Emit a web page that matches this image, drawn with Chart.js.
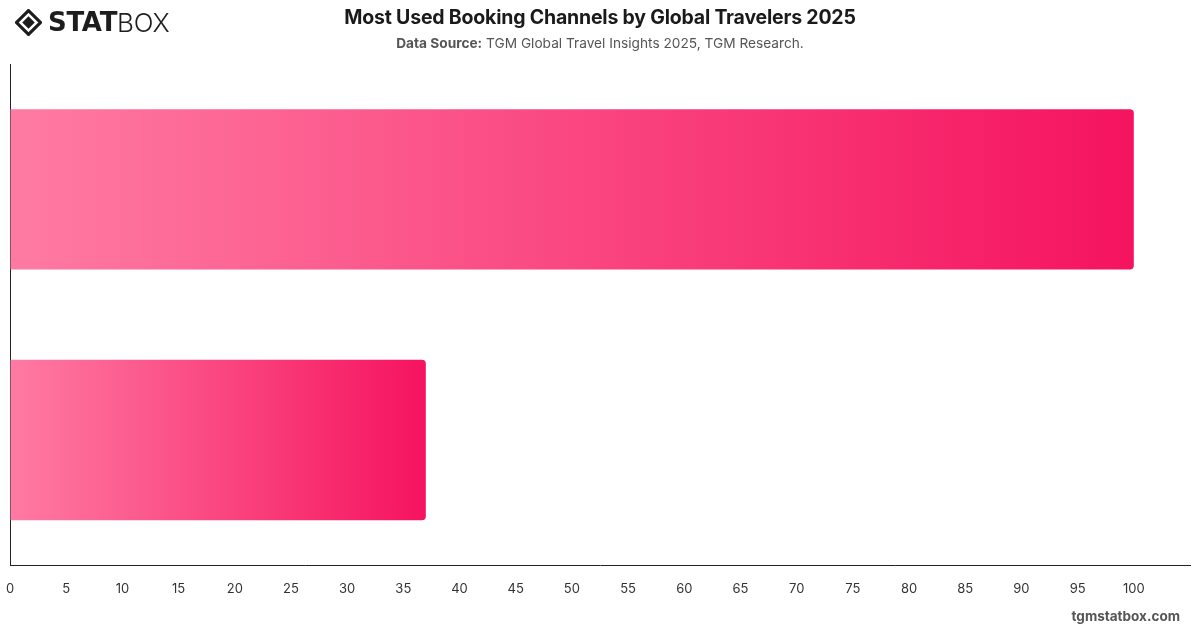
<!DOCTYPE html>
<html>
<head>
<meta charset="utf-8">
<script src="https://cdn.jsdelivr.net/npm/chart.js@4.4.1/dist/chart.umd.min.js"></script>
<style>
  html, body { margin: 0; padding: 0; background: #fff; }
  body { width: 1200px; height: 628px; position: relative; overflow: hidden; font-family: Inter, "Noto Sans", Arial, sans-serif; }
  #wrap { position: absolute; left: 0; top: 0; width: 1200px; height: 628px; }
  #title { position: absolute; top: 5px; left: 0; width: 1200px; text-align: center; font-size: 19.5px; font-weight: 700; color: #1a1a1a; letter-spacing: -0.2px; }
  #sub { position: absolute; top: 35px; left: 0; width: 1200px; text-align: center; font-size: 13.7px; color: #555; }
  #sub b { font-weight: 700; color: #555; }
  #logo { position: absolute; left: 15px; top: 8px; height: 28px; display: flex; align-items: center; }
  #logo .stat { font-family: "DejaVu Sans", Inter, sans-serif; font-weight: 900; font-size: 26px; color: #1d1d1d; letter-spacing: -0.3px; margin-left: 6px; }
  #logo .box { font-family: Inter, "Noto Sans", sans-serif; font-weight: 300; font-size: 26px; color: #1d1d1d; letter-spacing: -0.3px; }
  #wm { position: absolute; right: 20px; top: 608px; font-size: 13.5px; font-weight: 700; color: #555; }
</style>
</head>
<body>
<div id="wrap"><canvas id="c" width="1200" height="628"></canvas></div>
<div id="logo">
  <svg width="27" height="27" viewBox="0 0 26 26">
    <polygon points="13,1.5 24.5,13 13,24.5 1.5,13" fill="none" stroke="#1d1d1d" stroke-width="3"/>
    <polygon points="13,7 19,13 13,19 7,13" fill="#1d1d1d"/>
  </svg>
  <span class="stat">STAT</span><span class="box">BOX</span>
</div>
<div id="title">Most Used Booking Channels by Global Travelers 2025</div>
<div id="sub"><b>Data Source:</b> TGM Global Travel Insights 2025, TGM Research.</div>
<div id="wm">tgmstatbox.com</div>
<script>
const categories = ["Online Travel Agencies", "Direct Booking"];
const values = [100, 37];
const tickMax = 100;

function barGradient(ctx) {
  const chart = ctx.chart;
  const area = chart.chartArea;
  if (!area || ctx.type !== 'data') return '#f5145f';
  const x = chart.scales.x;
  const x0 = x.getPixelForValue(0);
  const x1 = x.getPixelForValue(ctx.raw);
  const g = chart.ctx.createLinearGradient(x0, 0, x1, 0);
  g.addColorStop(0, '#ff7ba3');
  g.addColorStop(1, '#f5135f');
  return g;
}

new Chart(document.getElementById('c'), {
  type: 'bar',
  data: {
    labels: categories,
    datasets: [{
      data: values,
      backgroundColor: barGradient,
      borderRadius: { topRight: 4, bottomRight: 4, topLeft: 0, bottomLeft: 0 },
      borderSkipped: 'start',
      categoryPercentage: 0.8,
      barPercentage: 0.8
    }]
  },
  options: {
    indexAxis: 'y',
    responsive: false,
    animation: false,
    layout: { autoPadding: false, padding: { top: 64, left: 10, right: 10, bottom: 31 } },
    plugins: { legend: { display: false }, tooltip: { enabled: false } },
    scales: {
      x: {
        min: 0, max: 105,
        grid: { display: true, drawOnChartArea: false, drawTicks: true, tickLength: 16, tickColor: 'rgba(0,0,0,0)' },
        border: { display: true, color: '#222', width: 1 },
        ticks: {
          stepSize: 5,
          padding: 0,
          color: '#333',
          font: { family: 'Inter, "Noto Sans", sans-serif', size: 13 },
          callback: v => (v <= tickMax ? String(v) : null)
        }
      },
      y: {
        afterFit: s => { s.width = 0; },
        grid: { display: false, drawTicks: false },
        border: { display: true, color: '#222', width: 1 },
        ticks: { display: false }
      }
    }
  }
});
</script>
</body>
</html>
